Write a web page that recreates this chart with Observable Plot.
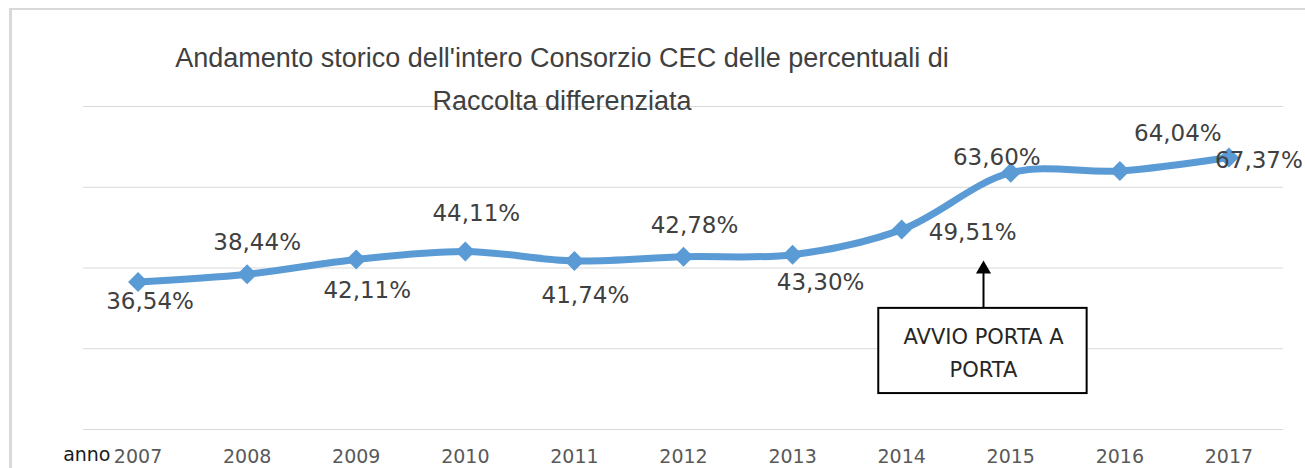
<!DOCTYPE html>
<html>
<head>
<meta charset="utf-8">
<script src="https://cdn.jsdelivr.net/npm/d3@7"></script>
<script src="https://cdn.jsdelivr.net/npm/@observablehq/plot@0.6"></script>
<style>
  html, body { margin: 0; padding: 0; background: #fff; }
  #wrap { position: relative; width: 1305px; height: 468px; overflow: hidden; }
  #frame { position: absolute; left: 9px; top: 8px; width: 1400px; height: 600px;
           border-top: 2px solid #d9d9d9; border-left: 3px solid #d9d9d9; box-sizing: border-box; }
  #title { position: absolute; left: 0; top: 37px; width: 1124px; text-align: center;
           font-family: "Liberation Sans", Arial, sans-serif; font-size: 27px; font-weight: normal;
           line-height: 43px; color: #404040; }
  #chart { position: absolute; left: 0; top: 0; }
</style>
</head>
<body>
<div id="wrap">
  <div id="frame"></div>
  <div id="chart"></div>
  <div id="title">Andamento storico dell'intero Consorzio CEC delle percentuali di<br>Raccolta differenziata</div>
</div>
<script>
// ---- data ----
const years = [2007, 2008, 2009, 2010, 2011, 2012, 2013, 2014, 2015, 2016, 2017];
const values = [36.54, 38.44, 42.11, 44.11, 41.74, 42.78, 43.30, 49.51, 63.60, 64.04, 67.37];
const yTicks = [0, 20, 40, 60, 80];
const xAxisName = "anno";
const annotationText = "AVVIO PORTA A\nPORTA";

// ---- layout (label offsets in px, annotation placement in data space) ----
const labelDx = [12, 10, 11, 11, 11, 11, 28, 71, -14, 58, 30];
const labelDy = [20, -32, 31, -38, 35, -31, 28, 3, -15, -37, 3];
const annotation = { x: 2014.75, x1: 2013.79, x2: 2015.70, boxTop: 30, boxBottom: 8.9, tip: 39.7, textY: 19.7 };

const fmt = v => v.toFixed(2).replace(".", ",") + "%";
const data = years.map((year, i) => ({ year, value: values[i], label: fmt(values[i]), dx: labelDx[i], dy: labelDy[i] }));

const chart = Plot.plot({
  width: 1305,
  height: 468,
  marginLeft: 83,
  marginRight: 22,
  marginTop: 106,
  marginBottom: 39,
  style: { fontFamily: "DejaVu Sans, sans-serif", fontSize: "19px", color: "#595959", background: "transparent", overflow: "visible" },
  x: { domain: [2006.5, 2017.5], ticks: years, tickFormat: d => String(d), tickSize: 0, tickPadding: 20, label: null },
  y: { domain: [0, 80], axis: null },
  marks: [
    Plot.gridY(yTicks, { stroke: "#d9d9d9", strokeOpacity: 1, strokeWidth: 1 }),
    Plot.line(data, { x: "year", y: "value", curve: "catmull-rom", stroke: "#5B9BD5", strokeWidth: 7, strokeLinejoin: "round" }),
    Plot.dot(data, { x: "year", y: "value", symbol: "diamond2", r: 9, fill: "#5B9BD5", stroke: "none" }),
    ...data.map(d => Plot.text([d], { x: "year", y: "value", text: "label", dx: d.dx, dy: d.dy,
      fontSize: 23, fill: "#404040" })),
    Plot.text([xAxisName], { frameAnchor: "bottom-left", text: d => d, dx: 27, dy: 31, textAnchor: "end",
      lineAnchor: "bottom", fontSize: 19, fill: "#1a1a1a" }),
    Plot.link([annotation], { x1: "x", x2: "x", y1: "boxTop", y2: "tip", stroke: "black", strokeWidth: 2 }),
    Plot.dot([annotation], { x: "x", y: "tip", symbol: "triangle", r: 5.6, fill: "black", stroke: "none" }),
    Plot.rect([annotation], { x1: "x1", x2: "x2", y1: "boxBottom", y2: "boxTop", fill: "white", stroke: "black", strokeWidth: 2 }),
    Plot.text([annotation], { x: "x", y: "textY", text: () => annotationText, lineHeight: 1.57, fontSize: 21, fill: "#262626" })
  ]
});
document.getElementById("chart").appendChild(chart);
</script>
</body>
</html>
